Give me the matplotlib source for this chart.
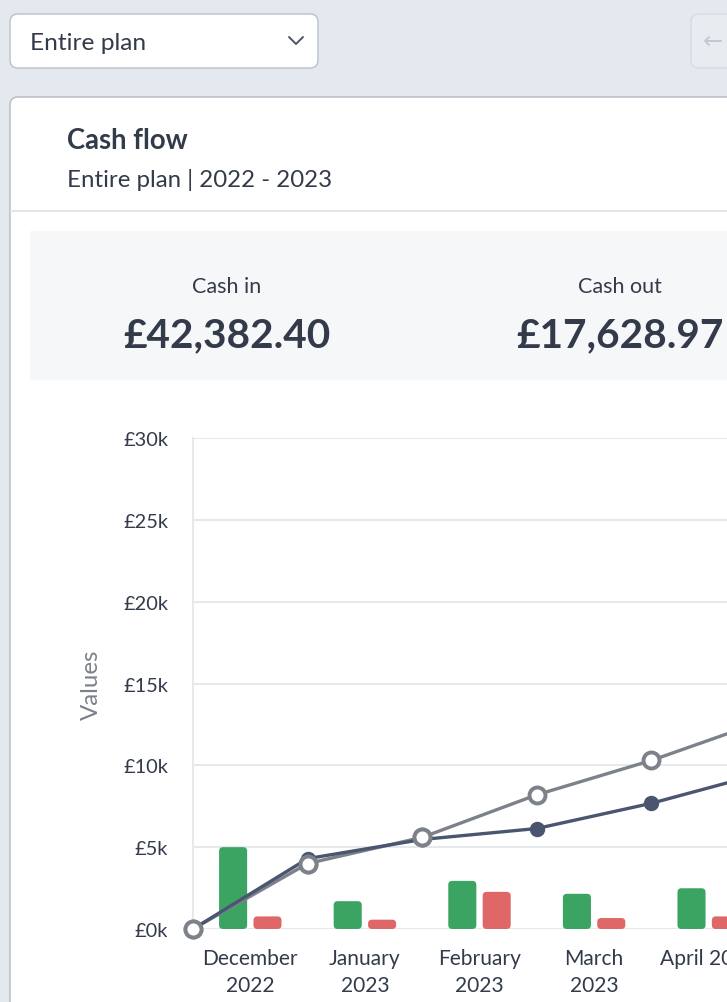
import matplotlib
matplotlib.use("Agg")
import matplotlib.pyplot as plt
from matplotlib.patches import FancyBboxPatch, Rectangle
from matplotlib.ticker import FuncFormatter

plt.rcParams["font.family"] = ["Lato", "DejaVu Sans"]

# ---------------------------------------------------------------------------
# Data (values in £ thousands)
# ---------------------------------------------------------------------------
MONTHS = ["December\n2022", "January\n2023", "February\n2023", "March\n2023",
          "April 2023"]
CASH_IN = [5.0, 1.7, 2.94, 2.15, 2.49]
CASH_OUT = [0.77, 0.57, 2.27, 0.67, 0.77]
# running totals, one point per month boundary (start of Dec .. start of May)
BALANCE = [0.0, 4.3, 5.47, 6.14, 7.68, 9.57]
FORECAST = [0.0, 4.0, 5.6, 8.2, 10.3, 12.76]
Y_TICKS = [0, 5, 10, 15, 20, 25, 30]

TOTAL_IN = "£42,382.40"
TOTAL_OUT = "£17,628.97"

# ---------------------------------------------------------------------------
# Styling
# ---------------------------------------------------------------------------
W, H = 727, 1003
PAGE_BG = "#e4e9ef"
TEXT = "#333b4a"
GREEN = "#3ba463"
RED = "#e06767"
DARK = "#4a5670"
GREY = "#7c818a"
GRID = "#e6e8eb"
PX = 0.72  # points per pixel at dpi 100

fig = plt.figure(figsize=(W / 100, H / 100), dpi=100)
fig.patch.set_facecolor(PAGE_BG)

# full-figure axes in pixel coordinates for the page furniture
ui = fig.add_axes([0, 0, 1, 1], zorder=0)
ui.set_xlim(0, W)
ui.set_ylim(H, 0)
ui.axis("off")

# dropdown
ui.add_patch(FancyBboxPatch((10, 15), 308, 54,
                            boxstyle="round,pad=0,rounding_size=8",
                            fc="white", ec="#b9c0c9", lw=1.0))
ui.text(30, 43, "Entire plan", fontsize=24.5 * PX, color=TEXT,
        ha="left", va="center")
ui.plot([289, 296, 303], [38, 45, 38], color="#4a5263", lw=1.4,
        solid_capstyle="round", solid_joinstyle="round")

# faded back button on the right
ui.add_patch(FancyBboxPatch((691, 15), 60, 54,
                            boxstyle="round,pad=0,rounding_size=8",
                            fc="#e8ecf1", ec="#d6dbe2", lw=1.0))
ui.text(703, 42, "←", fontsize=24 * PX, color="#c3c9d1",
        ha="left", va="center", family="DejaVu Sans")

# card
ui.add_patch(FancyBboxPatch((10, 98), 760, 960,
                            boxstyle="round,pad=0,rounding_size=8",
                            fc="white", ec="#b3b9c2", lw=1.0))
ui.text(67, 141, "Cash flow", fontsize=27.5 * PX, fontweight="bold",
        color=TEXT, ha="left", va="center")
ui.text(67, 180, "Entire plan | 2022 - 2023", fontsize=24 * PX,
        color=TEXT, ha="left", va="center")
ui.plot([11, W], [212, 212], color="#e1e4e8", lw=1.3)

# summary strip
ui.add_patch(Rectangle((30, 232), 720, 149, fc="#f6f7f9", ec="none"))
for cx, label, total in ((227, "Cash in", TOTAL_IN),
                         (620, "Cash out", TOTAL_OUT)):
    ui.text(cx, 287, label, fontsize=21.5 * PX, color=TEXT,
            ha="center", va="center")
    ui.text(cx, 336, total, fontsize=40.5 * PX, fontweight="bold",
            color=TEXT, ha="center", va="center")

# ---------------------------------------------------------------------------
# Chart: band of 114.6 px per month, axes run past the right edge
# ---------------------------------------------------------------------------
BAND = 114.6
N_BANDS = 6
x0, y_top, y_bot = 193, 439, 930
ax = fig.add_axes([x0 / W, 1 - y_bot / H, N_BANDS * BAND / W,
                   (y_bot - y_top) / H], zorder=2)
ax.set_facecolor("none")
ax.set_xlim(0, N_BANDS)
ax.set_ylim(0, 30)

for s in ("top", "right", "bottom"):
    ax.spines[s].set_visible(False)
ax.spines["left"].set_color(GRID)
ax.spines["left"].set_linewidth(1.5)
ax.set_yticks(Y_TICKS)
ax.yaxis.set_major_formatter(FuncFormatter(lambda v, _: f"£{v:.0f}k"))
ax.grid(axis="y", color=GRID, lw=1.5, zorder=0)
ax.set_axisbelow(True)
ax.tick_params(axis="y", length=0, pad=25 * PX, labelsize=20 * PX,
               labelcolor=TEXT)
ax.tick_params(axis="x", length=0, pad=19 * PX, labelsize=21 * PX,
               labelcolor=TEXT)
centers = [i + 0.5 for i in range(len(MONTHS))]
ax.set_xticks(centers)
ax.set_xticklabels(MONTHS, linespacing=1.45, va="top")
ax.set_ylabel("Values", fontsize=24 * PX, color=GREY)
ax.yaxis.set_label_coords(-91 / (N_BANDS * BAND), 0.5)

# bars with rounded tops
bw = 0.245
ppx_x = N_BANDS / (N_BANDS * BAND)          # data x per pixel
ppx_y = 30 / (y_bot - y_top)                # data y per pixel
for vals, off, col in ((CASH_IN, -0.15, GREEN), (CASH_OUT, 0.15, RED)):
    bars = ax.bar([c + off for c in centers], vals, width=bw, color=col,
                  zorder=2)
    for b in bars:
        b.set_visible(False)
        ax.add_patch(FancyBboxPatch(
            (b.get_x(), 0), b.get_width(), b.get_height(),
            boxstyle=f"round,pad=0,rounding_size={4 * ppx_x}",
            mutation_aspect=ppx_y / ppx_x, fc=col, ec="none", zorder=2))

xs = list(range(len(BALANCE)))
ax.plot(xs, FORECAST, color=GREY, lw=2.4, marker="o",
        markersize=16 * PX, markerfacecolor="white", markeredgecolor=GREY,
        markeredgewidth=2.8, zorder=3, clip_on=False)
ax.plot(xs, BALANCE, color=DARK, lw=2.4, marker="o",
        markersize=14 * PX, markerfacecolor=DARK, markeredgecolor=DARK,
        zorder=4, clip_on=False)
# keep the open markers on top where the lines meet, as in the app
ax.plot(xs[:3], FORECAST[:3], linestyle="none", marker="o",
        markersize=16 * PX, markerfacecolor="white", markeredgecolor=GREY,
        markeredgewidth=2.8, zorder=5, clip_on=False)

fig.savefig("out.png", dpi=100, facecolor=fig.get_facecolor())
